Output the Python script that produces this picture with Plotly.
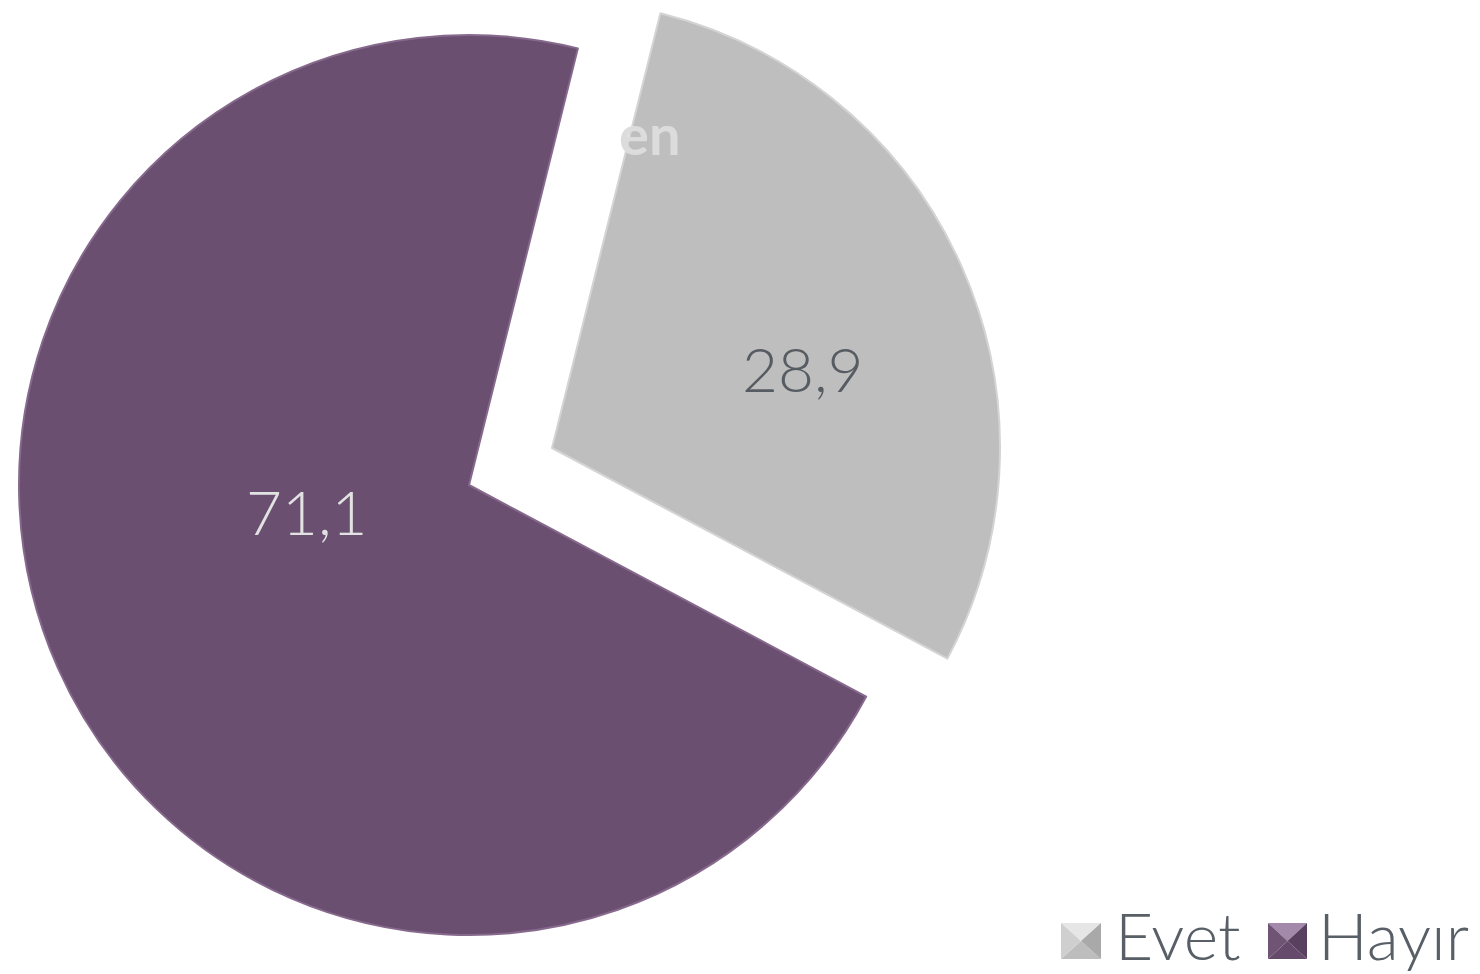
import plotly.graph_objects as go

W, H = 1480, 974

labels = ["Evet", "Hayır"]
values = [28.9, 71.1]
colors = ["#BEBEBE", "#6A4F70"]
rim_colors = ["#D4D4D4", "#86698C"]
label_colors = ["#575C63", "#E2E2E2"]


def px(x):
    return x / W


def py(y):
    return 1 - y / H


def fmt(v):
    return f"{v:.1f}".replace(".", ",")


fig = go.Figure()

pie_domains = [
    # Evet: center (552, 448), r 448
    dict(x=[px(552 - 448), px(552 + 448)], y=[py(896), 1.0]),
    # Hayır: center (469, 485), r 450
    dict(x=[px(469 - 450), px(469 + 450)], y=[py(935), py(35)]),
]

for k in [1, 0]:
    cols = ["rgba(0,0,0,0)"] * len(values)
    lcols = ["rgba(0,0,0,0)"] * len(values)
    cols[k] = colors[k]
    lcols[k] = rim_colors[k]
    fig.add_trace(go.Pie(
        labels=labels,
        values=values,
        sort=False,
        direction="clockwise",
        rotation=14,
        domain=pie_domains[k],
        marker=dict(colors=cols, line=dict(color=lcols, width=2)),
        textinfo="none",
        textposition="none",
        hoverinfo="label+value",
        showlegend=False,
    ))

font_family = "Lato, 'DejaVu Sans', sans-serif"

label_pos = [(803, 368), (306, 511)]
annotations = []
for i, v in enumerate(values):
    annotations.append(dict(
        x=px(label_pos[i][0]), y=py(label_pos[i][1]), xref="paper", yref="paper",
        text=fmt(v), showarrow=False, xanchor="center", yanchor="middle",
        font=dict(family=font_family, size=62, color=label_colors[i], weight=300),
    ))

annotations.append(dict(
    x=px(650), y=py(134), xref="paper", yref="paper", text="<b>en</b>",
    showarrow=False, xanchor="center", yanchor="middle",
    font=dict(family=font_family, size=56, color="#DCDCDC"),
))

legend_marks = [(1061, 1101), (1268, 1307)]
legend_text_x = [1113, 1316]
shades = [
    dict(top="#E6E6E6", left="#CFCFCF", right="#A9A9A9", bottom="#BDBDBD"),
    dict(top="#A48AAA", left="#6F5475", right="#5A4060", bottom="#654A6B"),
]
shapes = []
y0, y1 = 923, 959
for i, (x0, x1) in enumerate(legend_marks):
    cx, cy = (x0 + x1) / 2, (y0 + y1) / 2
    s = shades[i]
    tris = [
        ("top", [(x0, y0), (x1, y0), (cx, cy)]),
        ("bottom", [(x0, y1), (x1, y1), (cx, cy)]),
        ("left", [(x0, y0), (x0, y1), (cx, cy)]),
        ("right", [(x1, y0), (x1, y1), (cx, cy)]),
    ]
    for name, pts in tris:
        path = "M " + " L ".join(f"{px(a):.5f},{py(b):.5f}" for a, b in pts) + " Z"
        shapes.append(dict(type="path", xref="paper", yref="paper", path=path,
                           fillcolor=s[name], line=dict(width=0)))
    annotations.append(dict(
        x=px(legend_text_x[i]), y=py(934), xref="paper", yref="paper",
        text=labels[i], showarrow=False, xanchor="left", yanchor="middle",
        font=dict(family=font_family, size=66, color="#595F66", weight=300),
    ))

fig.update_layout(
    width=W, height=H,
    margin=dict(l=0, r=0, t=0, b=0),
    paper_bgcolor="white",
    plot_bgcolor="white",
    annotations=annotations,
    shapes=shapes,
    showlegend=False,
)

fig.write_html(
    "out.html",
    config={"displayModeBar": False},
    post_script="document.body.style.margin='0';document.body.style.padding='0';",
)
